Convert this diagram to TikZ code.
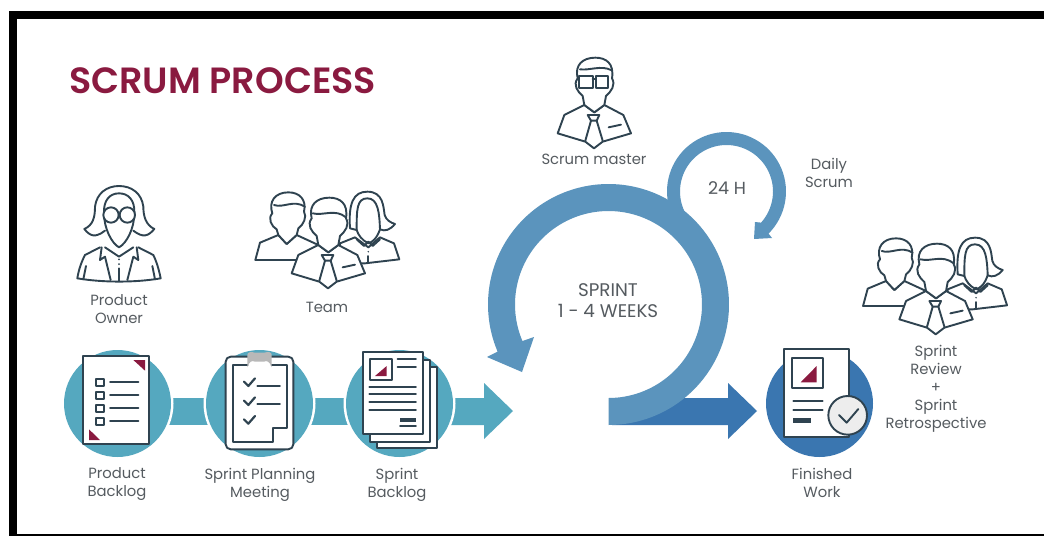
\documentclass[tikz,border=0pt]{standalone}
\usepackage{fontspec}
\setmainfont{Poppins}
\newfontfamily\titlefont{Poppins SemiBold}
\definecolor{ink}{HTML}{2F4350}
\definecolor{wine}{HTML}{8A1A40}
\definecolor{teal}{HTML}{55A8BF}
\definecolor{ringblue}{HTML}{5B94BD}
\definecolor{deepblue}{HTML}{3A76B0}
\definecolor{txt}{HTML}{555B60}
\tikzset{
  px/.style={x=1pt,y=-1pt},
  zm/.style={shift={(#1)},x=0.33333pt,y=-0.33333pt},
  icon/.style={draw=ink,line width=1.9pt,line join=round,line cap=round},
  iconw/.style={icon,fill=white},
  lab/.style={font=\fontsize{14.8}{18}\selectfont,text=txt,align=center,inner sep=0pt,anchor=center},
}
% man with tie, in crop coordinates
\newcommand{\tieman}{%
  \path[iconw] (835,255) -- (775,285) -- (755,340) -- (838,365) -- (864,385) -- (890,365) -- (975,340) -- (952,285) -- (895,255) -- (865,277) -- cycle;
  \path[icon] (845,285) -- (880,285) -- (872,302) -- (855,302) -- cycle;
  \path[icon] (855,302) -- (838,362);
  \path[icon] (872,302) -- (890,362);
  \path[icon] (908,322) -- (945,314);
  \path[iconw] (835,255) -- (865,277) -- (895,255) -- (900,228) .. controls (915,215) and (930,195) .. (918,175) .. controls (925,130) and (900,113) .. (868,113) .. controls (830,113) and (805,135) .. (815,175) .. controls (800,195) and (815,215) .. (830,228) -- cycle;
}
\newcommand{\manhair}{\path[icon] (818,160) .. controls (850,168) and (885,145) .. (918,172);}
% team of three
\newcommand{\teamicon}{%
  \path[iconw] (715,225) -- (660,248) -- (646,300) -- (775,300) -- (835,255) -- (770,225) -- (740,252) -- cycle;
  \path[iconw] (715,225) -- (740,252) -- (770,225) -- (775,205) .. controls (790,195) and (802,170) .. (792,155) .. controls (800,120) and (780,97) .. (745,97) .. controls (705,97) and (685,125) .. (697,160) .. controls (682,175) and (695,200) .. (710,208) -- cycle;
  \path[icon] (702,135) .. controls (730,145) and (760,118) .. (795,140);
  \path[iconw] (900,250) -- (945,232) -- (985,262) -- (1020,232) -- (1062,250) -- (1078,298) -- (975,310) -- (900,310) -- cycle;
  \path[iconw] (930,205) .. controls (925,130) and (940,95) .. (982,95) .. controls (1030,95) and (1030,140) .. (1034,165) .. controls (1038,180) and (1052,188) .. (1065,192) .. controls (1050,210) and (1035,215) .. (1020,208) .. controls (1010,235) and (1000,245) .. (985,250) .. controls (965,240) and (955,225) .. (950,210) -- cycle;
  \path[icon] (950,210) .. controls (950,150) and (950,115) .. (982,115) .. controls (1015,115) and (1018,160) .. (1020,208);
  \path[icon] (950,238) -- (972,258) -- (985,245) -- (998,258) -- (1020,238);
  \fill[ink] (985,262) circle (2.5) (985,275) circle (2.5);
  \path[icon] (985,288) -- (985,305);
  \tieman
  \manhair
}
\begin{document}
\begin{tikzpicture}[px]
\useasboundingbox (0,0) rectangle (1044,536);
\fill[white] (0,0) rectangle (1044,536);
\fill[black] (9,11) rectangle (1044,19);
\fill[black] (9,11) rectangle (17,536);
\fill[black] (9,534) rectangle (1044,536);

\node[anchor=west,inner sep=0pt,text=wine,font=\fontsize{36.5}{36.5}\selectfont\titlefont] (title) at (69,81) {SCRUM PROCESS};

% connectors and teal arrow
\fill[teal] (150,398) rectangle (430,425);
\fill[teal] (430,398) -- (484,398) -- (484,383) -- (513,411) -- (484,439) -- (484,425) -- (430,425) -- cycle;
\foreach \n/\c in {pb/117.5,pm/259.5,sb/399.5}{
  \fill[white] (\c,403.5) circle (56);
  \fill[teal] (\c,403.5) circle (53.5);
  \coordinate (\n) at (\c,403.5);
}

% blue arrow and finished circle
\fill[deepblue] (612,398) -- (728,398) -- (728,383) -- (757,411) -- (728,439) -- (728,425) -- (612,425) -- cycle;
\fill[deepblue] (819.5,403.5) circle (53.5);

% small ring
\fill[ringblue] plot[smooth,domain=205:-45,samples=60] ({726.5+59.5*cos(\x)},{191.5-59.5*sin(\x)})
  -- (772,238) -- (754,239) -- (755,222)
  -- plot[smooth,domain=-42:205,samples=60] ({726.5+46.5*cos(\x)},{191.5-46.5*sin(\x)}) -- cycle;

% big ring
\fill[ringblue] plot[smooth,domain=-90:203,samples=120] ({608.5+120.5*cos(\x)},{304.5-120.5*sin(\x)})
  -- (487,357) -- (522,372) -- (534,337)
  -- plot[smooth,domain=203:-90,samples=120] ({608.5+93.5*cos(\x)},{304.5-93.5*sin(\x)}) -- cycle;

% product owner
\begin{scope}[zm={40,160}]
  \path[icon] (180,262) -- (135,285) .. controls (122,310) and (115,335) .. (112,355) .. controls (190,368) and (285,368) .. (362,355) .. controls (358,335) and (352,310) .. (340,285) -- (295,262);
  \path[icon] (138,318) -- (130,358);
  \path[icon] (337,318) -- (345,358);
  \path[icon] (185,262) -- (180,300) -- (195,290) -- (212,360);
  \path[icon] (290,262) -- (295,300) -- (280,290) -- (262,360);
  \path[icon] (195,262) -- (237,290) -- (280,262);
  \path[icon] (237,325) -- (237,362);
  \fill[ink] (237,298) circle (3) (237,312) circle (3);
  \path[icon] (195,212) .. controls (165,235) and (150,228) .. (133,207) .. controls (160,195) and (165,170) .. (165,140) .. controls (170,100) and (200,78) .. (237,78) .. controls (275,78) and (305,100) .. (310,140) .. controls (310,170) and (318,195) .. (343,207) .. controls (325,228) and (310,235) .. (280,212);
  \path[icon] (192,160) .. controls (190,120) and (210,100) .. (237,100) .. controls (265,100) and (285,120) .. (283,160) .. controls (283,205) and (260,250) .. (237,262) .. controls (215,250) and (192,205) .. (192,160) -- cycle;
  \path[iconw] (213,165) circle (23);
  \path[iconw] (262,165) circle (23);
  \path[icon] (236,165) -- (239,165);
\end{scope}

% team, review group, scrum master
\begin{scope}[zm={40,160}]\teamicon\end{scope}
\begin{scope}[zm={647.7,206}]\teamicon\end{scope}
\begin{scope}[zm={306,20}]
  \tieman
  \path[icon] (822,148) .. controls (850,152) and (885,135) .. (915,150);
  \path[icon] (820,168) rectangle (860,205);
  \path[icon] (870,168) rectangle (907,205);
  \path[icon] (860,178) -- (870,178);
\end{scope}

% product backlog
\begin{scope}[zm={40,160}]
  \path[iconw] (130,587) rectangle (327,853);
  \fill[wine] (280,600) -- (315,600) -- (315,632) -- cycle;
  \fill[wine] (147,808) -- (147,840) -- (180,840) -- cycle;
  \foreach \y in {667,706,745,785}{
    \path[icon,line cap=butt] (168,\y-11) rectangle (192,\y+11);
    \path[icon] (210,\y-2) -- (295,\y-2);
  }
  % clipboard
  \path[iconw,rounded corners=5pt] (557,590) rectangle (760,868);
  \path[icon] (623,615) -- (580,615) -- (580,845) -- (700,845) -- (700,803) -- (740,803) -- (740,615) -- (695,615);
  \path[draw=ink,line width=1.7pt] (640,580) arc[start angle=180,end angle=0,radius=18];
  \fill[black!28] (622,585) .. controls (622,575) and (635,575) .. (645,578) -- (672,578) .. controls (685,575) and (695,575) .. (695,585) -- (695,622) .. controls (690,605) and (680,600) .. (672,605) -- (645,605) .. controls (635,600) and (628,605) .. (622,622) -- cycle;
  \foreach \y in {665,722,778}{
    \path[icon,line width=2.2pt] (612,\y) -- (625,\y+13) -- (645,\y-10);
  }
  \path[icon] (652,677) -- (720,677);
  \path[icon] (652,733) -- (720,733);
  % sprint backlog
  \path[iconw] (1010,620) rectangle (1190,865);
  \path[iconw] (990,600) rectangle (1170,845);
  \path[iconw] (968,577) rectangle (1148,823);
  \path[icon] (990,598) rectangle (1055,660);
  \fill[wine] (1005,648) -- (1040,648) -- (1040,618) -- cycle;
  \foreach \y in {598,622}{\path[icon] (1073,\y) -- (1128,\y);}
  \foreach \y in {680,703,727,749}{\path[icon] (988,\y) -- (1128,\y);}
  \fill[ink] (1080,773) rectangle (1128,787);
  \path[icon] (1080,799) -- (1128,799);
\end{scope}

% finished work
\begin{scope}[zm={740,230}]
  \path[iconw] (133,358) rectangle (327,622);
  \path[icon] (157,385) rectangle (250,475);
  \fill[wine] (182,457) -- (230,457) -- (230,408) -- cycle;
  \path[icon] (160,512) -- (248,512);
  \path[icon] (160,540) -- (248,540);
  \fill[ink] (160,563) rectangle (213,578);
  \path[icon,fill=black!7] (323,556) circle (58);
  \path[icon] (297,555) -- (320,578) -- (355,537);
\end{scope}

% labels
\node[lab] (l1) at (119,309) {Product\\Owner};
\node[lab] (l2) at (327,307) {Team};
\node[lab] (l3) at (117,484.5) {Product\\Backlog};
\node[lab] (l4) at (260,484.5) {Sprint Planning\\Meeting};
\node[lab] (l5) at (397,484.5) {Sprint\\Backlog};
\node[lab] (l6) at (594,159) {Scrum master};
\node[lab,font=\fontsize{17.5}{17.5}\selectfont] (l7) at (727,188) {24 H};
\node[lab] (l8) at (829,173) {Daily\\Scrum};
\node[lab,font=\fontsize{18.3}{21}\selectfont] (l9) at (608,301) {SPRINT\\1 - 4 WEEKS};
\node[lab] (l10) at (936,389) {Sprint\\Review\\+\\Sprint\\Retrospective};
\node[lab] (l11) at (822,483) {Finished\\Work};
\end{tikzpicture}
\end{document}
